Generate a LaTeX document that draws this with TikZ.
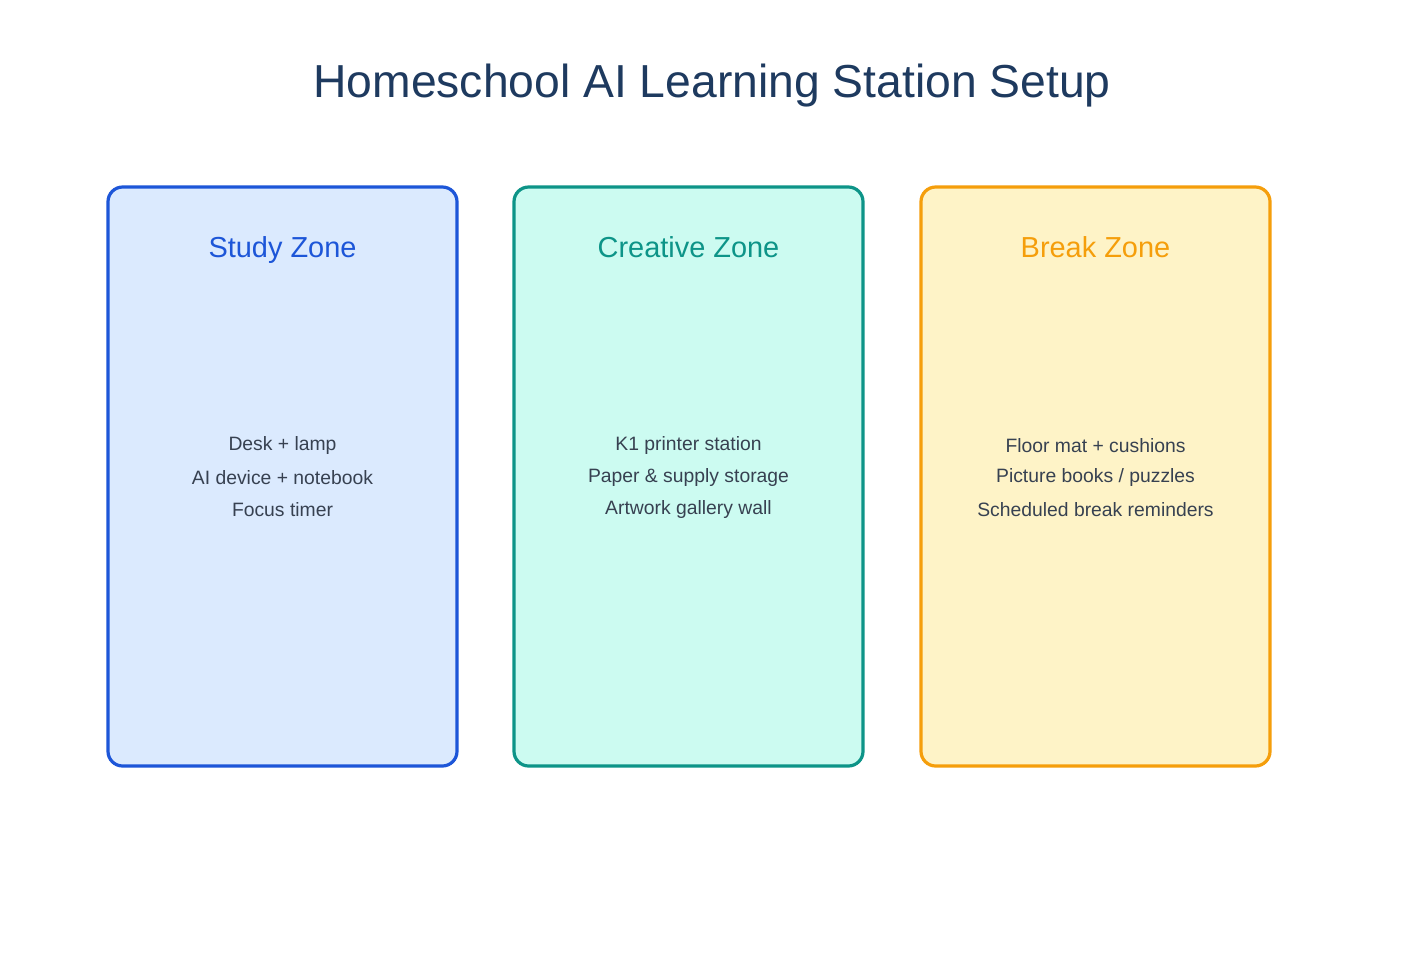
\documentclass[tikz,border=0pt]{standalone}
\usepackage{fontspec}
\setmainfont{Liberation Sans}
\definecolor{titlec}{HTML}{1E3A5F}
\definecolor{bodyc}{HTML}{374151}
\definecolor{blueS}{HTML}{1D56D8}
\definecolor{blueF}{HTML}{DBEAFE}
\definecolor{tealS}{HTML}{0D9488}
\definecolor{tealF}{HTML}{CCFBF1}
\definecolor{orS}{HTML}{F59E0B}
\definecolor{orF}{HTML}{FEF3C7}
\begin{document}
\begin{tikzpicture}[x=0.75pt,y=-0.75pt,
  zone/.style={rounded corners=11pt,line width=2.4pt},
  ztitle/.style={anchor=base,font=\fontsize{21.7}{26}\selectfont},
  item/.style={anchor=base,font=\fontsize{14.5}{17}\selectfont,text=bodyc}]
\useasboundingbox (0,0) rectangle (1425,954);
\fill[white] (0,0) rectangle (1425,954);
\node[anchor=base,font=\fontsize{34.7}{42}\selectfont,text=titlec] (title) at (712,97) {Homeschool AI Learning Station Setup};
% Study
\draw[zone,draw=blueS,fill=blueF] (108,187) rectangle (457,766);
\node[ztitle,text=blueS] (st) at (282.5,257.5) {Study Zone};
\node[item] (s1) at (282.5,450) {Desk + lamp};
\node[item] (s2) at (282.5,484) {AI device + notebook};
\node[item] (s3) at (282.5,516) {Focus timer};
% Creative
\draw[zone,draw=tealS,fill=tealF] (514,187) rectangle (863,766);
\node[ztitle,text=tealS] (ct) at (688.5,257.5) {Creative Zone};
\node[item] (c1) at (688.5,450) {K1 printer station};
\node[item] (c2) at (688.5,482) {Paper \& supply storage};
\node[item] (c3) at (688.5,514) {Artwork gallery wall};
% Break
\draw[zone,draw=orS,fill=orF] (921,187) rectangle (1270,766);
\node[ztitle,text=orS] (bt) at (1095.5,257.5) {Break Zone};
\node[item] (b1) at (1095.5,452) {Floor mat + cushions};
\node[item] (b2) at (1095.5,482) {Picture books / puzzles};
\node[item] (b3) at (1095.5,516) {Scheduled break reminders};
\end{tikzpicture}
\end{document}
